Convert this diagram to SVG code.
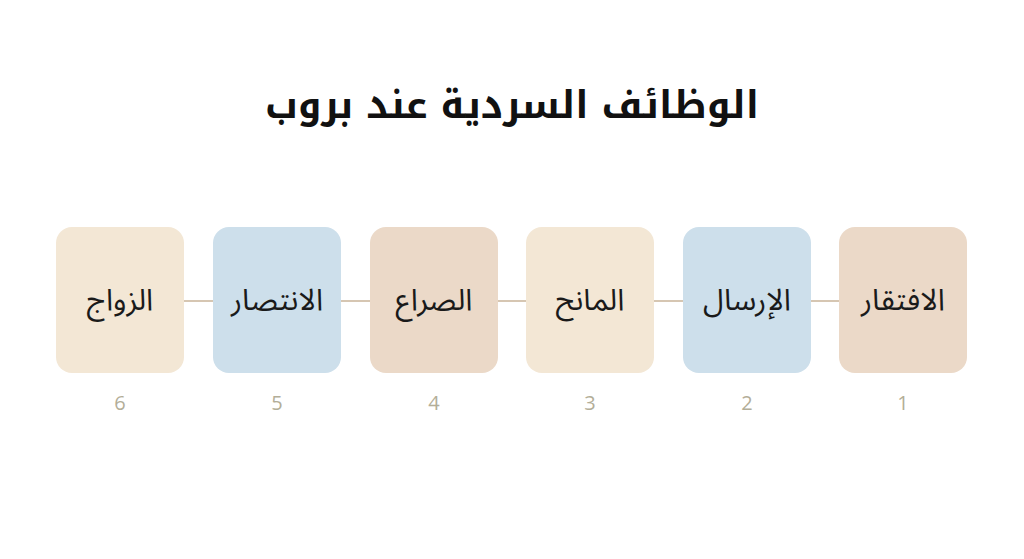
<svg xmlns="http://www.w3.org/2000/svg" width="1024" height="559" viewBox="0 0 1024 559">
<style>
.box{stroke:none}
.peach{fill:#ebd9c8}
.blue{fill:#cddfeb}
.cream{fill:#f3e7d5}
.lbl{font-family:"Noto Sans Arabic","Noto Naskh Arabic","DejaVu Sans",sans-serif;font-size:30px;fill:#1a1a1a;text-anchor:middle}
.num{font-family:"Open Sans","Noto Sans",sans-serif;font-size:20px;fill:#b3ae98;text-anchor:middle}
.title{font-family:"Noto Kufi Arabic","Noto Sans Arabic","DejaVu Sans",sans-serif;font-size:38px;font-weight:bold;fill:#111;text-anchor:middle}
.conn{stroke:#d6c6b2;stroke-width:2;fill:none}
</style>
<rect width="1024" height="559" fill="#ffffff"/>
<text class="title" x="512" y="118" direction="rtl">الوظائف السردية عند بروب</text>
<g id="connectors">
<line class="conn" x1="184" y1="301" x2="213" y2="301"/>
<line class="conn" x1="341" y1="301" x2="370" y2="301"/>
<line class="conn" x1="497" y1="301" x2="526" y2="301"/>
<line class="conn" x1="654" y1="301" x2="683" y2="301"/>
<line class="conn" x1="810" y1="301" x2="839" y2="301"/>
</g>
<g id="node1">
<rect class="box peach" x="839" y="227" width="128" height="146" rx="16"/>
<text class="lbl" x="903" y="310" direction="rtl">الافتقار</text>
<text class="num" x="903" y="410">1</text>
</g>
<g id="node2">
<rect class="box blue" x="683" y="227" width="128" height="146" rx="16"/>
<text class="lbl" x="747" y="310" direction="rtl">الإرسال</text>
<text class="num" x="747" y="410">2</text>
</g>
<g id="node3">
<rect class="box cream" x="526" y="227" width="128" height="146" rx="16"/>
<text class="lbl" x="590" y="310" direction="rtl">المانح</text>
<text class="num" x="590" y="410">3</text>
</g>
<g id="node4">
<rect class="box peach" x="370" y="227" width="128" height="146" rx="16"/>
<text class="lbl" x="434" y="310" direction="rtl">الصراع</text>
<text class="num" x="434" y="410">4</text>
</g>
<g id="node5">
<rect class="box blue" x="213" y="227" width="128" height="146" rx="16"/>
<text class="lbl" x="277" y="310" direction="rtl">الانتصار</text>
<text class="num" x="277" y="410">5</text>
</g>
<g id="node6">
<rect class="box cream" x="56" y="227" width="128" height="146" rx="16"/>
<text class="lbl" x="120" y="310" direction="rtl">الزواج</text>
<text class="num" x="120" y="410">6</text>
</g>
</svg>
